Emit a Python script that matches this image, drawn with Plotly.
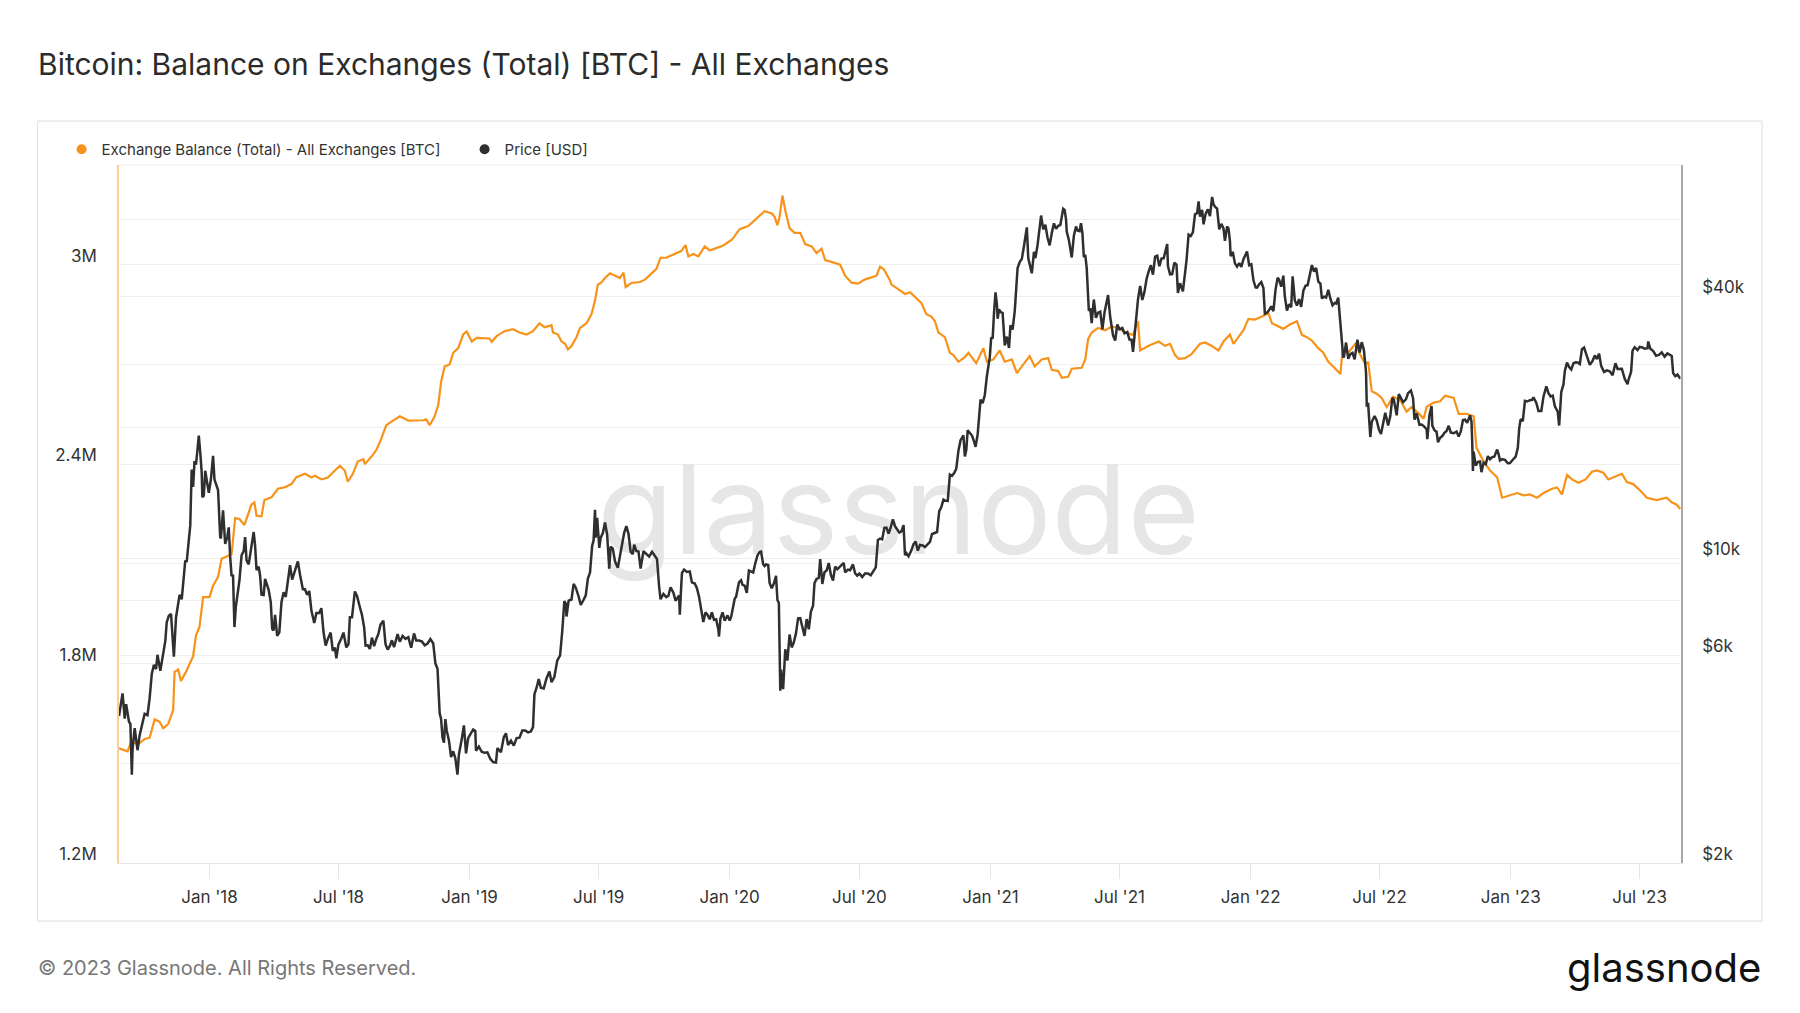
import plotly.graph_objects as go

# ---------------- data ----------------
PRICE_DATES = [
"2017-08-27","2017-08-29","2017-09-01","2017-09-04","2017-09-06","2017-09-10","2017-09-12","2017-09-14","2017-09-15","2017-09-18",
"2017-09-22","2017-09-25","2017-09-29","2017-10-02","2017-10-06","2017-10-09","2017-10-12","2017-10-15","2017-10-18","2017-10-20",
"2017-10-24","2017-10-27","2017-10-31","2017-11-02","2017-11-05","2017-11-08","2017-11-10","2017-11-12","2017-11-15","2017-11-17",
"2017-11-20","2017-11-23","2017-11-26","2017-11-28","2017-11-30","2017-12-03","2017-12-05","2017-12-07","2017-12-09","2017-12-11",
"2017-12-13","2017-12-15","2017-12-17","2017-12-19","2017-12-21","2017-12-22","2017-12-24","2017-12-26","2017-12-29","2017-12-31",
"2018-01-03","2018-01-06","2018-01-08","2018-01-10","2018-01-13","2018-01-16","2018-01-17","2018-01-20","2018-01-23","2018-01-26",
"2018-01-28","2018-01-30","2018-02-01","2018-02-03","2018-02-05","2018-02-07","2018-02-09","2018-02-12","2018-02-15","2018-02-18",
"2018-02-20","2018-02-22","2018-02-25","2018-02-28","2018-03-04","2018-03-06","2018-03-08","2018-03-11","2018-03-13","2018-03-15",
"2018-03-18","2018-03-20","2018-03-22","2018-03-25","2018-03-28","2018-03-30","2018-04-01","2018-04-03","2018-04-06","2018-04-09",
"2018-04-12","2018-04-15","2018-04-18","2018-04-21","2018-04-24","2018-04-27","2018-04-30","2018-05-05","2018-05-08","2018-05-12",
"2018-05-15","2018-05-18","2018-05-21","2018-05-24","2018-05-28","2018-05-31","2018-06-04","2018-06-07","2018-06-10","2018-06-13",
"2018-06-16","2018-06-20","2018-06-23","2018-06-26","2018-06-28","2018-07-01","2018-07-05","2018-07-08","2018-07-12","2018-07-15",
"2018-07-17","2018-07-20","2018-07-24","2018-07-27","2018-07-31","2018-08-03","2018-08-06","2018-08-08","2018-08-11","2018-08-14",
"2018-08-17","2018-08-20","2018-08-23","2018-08-26","2018-08-29","2018-09-02","2018-09-05","2018-09-08","2018-09-11","2018-09-14",
"2018-09-17","2018-09-20","2018-09-22","2018-09-25","2018-09-29","2018-10-03","2018-10-07","2018-10-11","2018-10-15","2018-10-18",
"2018-10-22","2018-10-26","2018-10-30","2018-11-03","2018-11-07","2018-11-11","2018-11-14","2018-11-17","2018-11-19","2018-11-20",
"2018-11-22","2018-11-24","2018-11-26","2018-11-28","2018-11-30","2018-12-03","2018-12-06","2018-12-09","2018-12-12","2018-12-15",
"2018-12-17","2018-12-19","2018-12-21","2018-12-24","2018-12-27","2018-12-30","2019-01-02","2019-01-06","2019-01-09","2019-01-10",
"2019-01-14","2019-01-18","2019-01-22","2019-01-26","2019-01-30","2019-02-03","2019-02-07","2019-02-09","2019-02-14","2019-02-18",
"2019-02-21","2019-02-24","2019-02-28","2019-03-04","2019-03-08","2019-03-12","2019-03-16","2019-03-20","2019-03-24","2019-03-28",
"2019-03-31","2019-04-02","2019-04-05","2019-04-08","2019-04-11","2019-04-15","2019-04-19","2019-04-23","2019-04-26","2019-04-30",
"2019-05-04","2019-05-08","2019-05-11","2019-05-14","2019-05-16","2019-05-17","2019-05-20","2019-05-24","2019-05-27","2019-05-30",
"2019-06-03","2019-06-06","2019-06-10","2019-06-13","2019-06-16","2019-06-19","2019-06-22","2019-06-24","2019-06-26","2019-06-27",
"2019-06-29","2019-07-02","2019-07-04","2019-07-07","2019-07-10","2019-07-13","2019-07-16","2019-07-18","2019-07-21","2019-07-24",
"2019-07-28","2019-07-31","2019-08-03","2019-08-06","2019-08-09","2019-08-12","2019-08-15","2019-08-18","2019-08-20","2019-08-23",
"2019-08-26","2019-08-29","2019-09-02","2019-09-06","2019-09-10","2019-09-14","2019-09-18","2019-09-21","2019-09-24","2019-09-26",
"2019-09-30","2019-10-04","2019-10-07","2019-10-10","2019-10-14","2019-10-17","2019-10-22","2019-10-23","2019-10-25","2019-10-26",
"2019-10-29","2019-11-02","2019-11-06","2019-11-09","2019-11-13","2019-11-16","2019-11-19","2019-11-22","2019-11-25","2019-11-28",
"2019-12-01","2019-12-04","2019-12-07","2019-12-10","2019-12-13","2019-12-16","2019-12-17","2019-12-19","2019-12-22","2019-12-25",
"2019-12-29","2020-01-01","2020-01-03","2020-01-06","2020-01-08","2020-01-10","2020-01-14","2020-01-17","2020-01-19","2020-01-22",
"2020-01-25","2020-01-28","2020-01-31","2020-02-03","2020-02-06","2020-02-09","2020-02-12","2020-02-14","2020-02-17","2020-02-19",
"2020-02-21","2020-02-24","2020-02-26","2020-02-29","2020-03-03","2020-03-06","2020-03-08","2020-03-10","2020-03-12","2020-03-13",
"2020-03-16","2020-03-19","2020-03-22","2020-03-25","2020-03-28","2020-03-31","2020-04-03","2020-04-06","2020-04-09","2020-04-12",
"2020-04-15","2020-04-18","2020-04-21","2020-04-24","2020-04-27","2020-04-29","2020-05-02","2020-05-05","2020-05-07","2020-05-10",
"2020-05-13","2020-05-16","2020-05-19","2020-05-22","2020-05-25","2020-05-28","2020-05-31","2020-06-02","2020-06-05","2020-06-09",
"2020-06-11","2020-06-15","2020-06-18","2020-06-22","2020-06-25","2020-06-28","2020-07-01","2020-07-05","2020-07-09","2020-07-13",
"2020-07-17","2020-07-21","2020-07-24","2020-07-27","2020-07-30","2020-08-02","2020-08-05","2020-08-08","2020-08-11","2020-08-14",
"2020-08-17","2020-08-20","2020-08-23","2020-08-26","2020-08-29","2020-09-01","2020-09-03","2020-09-05","2020-09-08","2020-09-12",
"2020-09-15","2020-09-18","2020-09-21","2020-09-24","2020-09-28","2020-10-01","2020-10-05","2020-10-08","2020-10-11","2020-10-14",
"2020-10-18","2020-10-21","2020-10-24","2020-10-27","2020-10-30","2020-11-02","2020-11-05","2020-11-08","2020-11-11","2020-11-14",
"2020-11-17","2020-11-20","2020-11-24","2020-11-26","2020-11-28","2020-11-30","2020-12-03","2020-12-06","2020-12-09","2020-12-11",
"2020-12-14","2020-12-16","2020-12-18","2020-12-21","2020-12-24","2020-12-27","2020-12-29","2020-12-31","2021-01-02","2021-01-04",
"2021-01-06","2021-01-08","2021-01-10","2021-01-11","2021-01-13","2021-01-15","2021-01-18","2021-01-21","2021-01-24","2021-01-27",
"2021-01-29","2021-02-01","2021-02-04","2021-02-08","2021-02-11","2021-02-14","2021-02-17","2021-02-20","2021-02-21","2021-02-23",
"2021-02-26","2021-02-28","2021-03-03","2021-03-05","2021-03-08","2021-03-10","2021-03-13","2021-03-16","2021-03-19","2021-03-22",
"2021-03-25","2021-03-28","2021-03-31","2021-04-03","2021-04-06","2021-04-09","2021-04-13","2021-04-15","2021-04-17","2021-04-18",
"2021-04-21","2021-04-25","2021-04-28","2021-05-01","2021-05-03","2021-05-06","2021-05-08","2021-05-10","2021-05-12","2021-05-14",
"2021-05-16","2021-05-19","2021-05-21","2021-05-23","2021-05-26","2021-05-29","2021-06-01","2021-06-04","2021-06-07","2021-06-10",
"2021-06-13","2021-06-15","2021-06-18","2021-06-22","2021-06-25","2021-06-28","2021-07-01","2021-07-05","2021-07-08","2021-07-12",
"2021-07-15","2021-07-18","2021-07-20","2021-07-22","2021-07-25","2021-07-27","2021-07-30","2021-08-02","2021-08-05","2021-08-08",
"2021-08-11","2021-08-14","2021-08-17","2021-08-20","2021-08-23","2021-08-26","2021-08-29","2021-09-01","2021-09-06","2021-09-07",
"2021-09-10","2021-09-13","2021-09-16","2021-09-19","2021-09-21","2021-09-24","2021-09-28","2021-09-30","2021-10-03","2021-10-06",
"2021-10-09","2021-10-12","2021-10-15","2021-10-18","2021-10-20","2021-10-22","2021-10-25","2021-10-27","2021-10-30","2021-11-02",
"2021-11-05","2021-11-08","2021-11-10","2021-11-12","2021-11-15","2021-11-18","2021-11-21","2021-11-24","2021-11-26","2021-11-29",
"2021-12-01","2021-12-03","2021-12-04","2021-12-07","2021-12-10","2021-12-13","2021-12-16","2021-12-19","2021-12-22","2021-12-27",
"2021-12-30","2022-01-02","2022-01-05","2022-01-08","2022-01-10","2022-01-13","2022-01-16","2022-01-19","2022-01-21","2022-01-24",
"2022-01-27","2022-01-30","2022-02-02","2022-02-05","2022-02-08","2022-02-10","2022-02-13","2022-02-16","2022-02-18","2022-02-21",
"2022-02-24","2022-02-27","2022-03-01","2022-03-04","2022-03-07","2022-03-10","2022-03-13","2022-03-16","2022-03-19","2022-03-22",
"2022-03-25","2022-03-28","2022-03-31","2022-04-03","2022-04-06","2022-04-09","2022-04-11","2022-04-14","2022-04-17","2022-04-20",
"2022-04-23","2022-04-26","2022-04-29","2022-05-01","2022-05-04","2022-05-06","2022-05-09","2022-05-11","2022-05-12","2022-05-15",
"2022-05-18","2022-05-21","2022-05-24","2022-05-27","2022-05-31","2022-06-03","2022-06-06","2022-06-09","2022-06-12","2022-06-13",
"2022-06-15","2022-06-18","2022-06-20","2022-06-24","2022-06-27","2022-06-30","2022-07-03","2022-07-06","2022-07-09","2022-07-13",
"2022-07-16","2022-07-19","2022-07-21","2022-07-25","2022-07-28","2022-07-31","2022-08-03","2022-08-07","2022-08-10","2022-08-14",
"2022-08-17","2022-08-19","2022-08-22","2022-08-26","2022-08-29","2022-09-01","2022-09-05","2022-09-06","2022-09-09","2022-09-12",
"2022-09-13","2022-09-16","2022-09-19","2022-09-21","2022-09-24","2022-09-27","2022-09-30","2022-10-03","2022-10-06","2022-10-09",
"2022-10-13","2022-10-17","2022-10-20","2022-10-23","2022-10-26","2022-10-29","2022-11-01","2022-11-05","2022-11-07","2022-11-08",
"2022-11-09","2022-11-10","2022-11-13","2022-11-16","2022-11-19","2022-11-21","2022-11-24","2022-11-27","2022-11-30","2022-12-03",
"2022-12-06","2022-12-09","2022-12-13","2022-12-15","2022-12-17","2022-12-20","2022-12-24","2022-12-28","2022-12-31","2023-01-04",
"2023-01-08","2023-01-11","2023-01-13","2023-01-15","2023-01-18","2023-01-21","2023-01-24","2023-01-28","2023-01-31","2023-02-02",
"2023-02-06","2023-02-09","2023-02-13","2023-02-16","2023-02-20","2023-02-23","2023-02-26","2023-03-01","2023-03-04","2023-03-08",
"2023-03-10","2023-03-13","2023-03-16","2023-03-18","2023-03-21","2023-03-24","2023-03-27","2023-03-30","2023-04-02","2023-04-05",
"2023-04-08","2023-04-11","2023-04-14","2023-04-17","2023-04-20","2023-04-22","2023-04-26","2023-04-29","2023-05-02","2023-05-05",
"2023-05-08","2023-05-11","2023-05-12","2023-05-16","2023-05-20","2023-05-24","2023-05-28","2023-05-31","2023-06-03","2023-06-06",
"2023-06-10","2023-06-14","2023-06-15","2023-06-19","2023-06-21","2023-06-24","2023-06-28","2023-07-01","2023-07-05","2023-07-08",
"2023-07-12","2023-07-13","2023-07-16","2023-07-20","2023-07-24","2023-07-28","2023-08-01","2023-08-05","2023-08-09","2023-08-12",
"2023-08-15","2023-08-17","2023-08-20","2023-08-23","2023-08-26","2023-08-27",
]
PRICE_USD = [
4350,4580,4900,4290,4630,4220,4170,3190,3640,4080,
3630,3930,4190,4400,4370,4780,5430,5700,5570,6010,
5520,5900,6470,7140,7390,7460,6620,5950,7320,7710,
8250,8060,9310,9890,9820,11320,11910,16000,14600,16730,
16410,17700,19140,17530,15800,13830,13930,15900,14600,14150,
15200,17200,15170,14900,14360,11200,11120,12900,10800,11200,
11790,10100,9110,9170,6960,7750,8270,8900,10170,10400,
11200,9900,9690,10400,11500,10700,9400,9580,9140,8260,
8240,8980,8720,8470,7930,6890,6840,7420,6640,6770,
7930,8360,8160,8860,9650,8940,9240,9850,9190,8500,
8500,8250,8420,7590,7110,7500,7500,7690,6780,6310,
6530,6760,6140,6240,5900,6350,6550,6760,6250,6350,
7330,7330,8400,8200,7730,7420,6950,6310,6320,6200,
6580,6290,6530,6710,7050,7200,6360,6180,6290,6490,
6260,6490,6710,6440,6640,6540,6600,6240,6730,6480,
6480,6450,6320,6380,6530,6380,5740,5580,4760,4410,
4280,3880,3780,4280,4020,3820,3500,3610,3480,3190,
3550,3750,3850,4140,3570,3870,3950,4050,4020,3620,
3700,3600,3580,3590,3470,3410,3400,3670,3590,3890,
3970,3730,3820,3720,3870,3880,4030,4030,3990,4010,
4100,4880,5050,5290,5050,5030,5310,5500,5200,5350,
5830,5990,6800,7980,7880,7360,8000,8050,8740,8570,
8180,7820,8040,8230,8990,9280,10700,11000,12930,11160,
12400,10580,11160,11440,12100,11350,9480,10650,10540,9850,
9520,10080,10820,11470,11860,11390,10360,10230,10760,10400,
10370,9480,10390,10260,10100,10360,10160,9970,8600,8060,
8290,8150,8210,8590,8350,8000,8220,7430,8660,9250,
9430,9310,9340,8810,8760,8550,8170,7630,7150,7520,
7420,7250,7520,7230,7250,6880,6620,7280,7520,7200,
7400,7200,7340,7770,8080,8170,8810,8910,8700,8660,
8340,9380,9350,9290,9760,10160,10350,10370,9700,9610,
9690,9660,8790,8540,8760,9120,8030,7900,4970,5560,
5010,6190,5830,6690,6250,6420,6730,7290,7300,6910,
6640,7260,6880,7550,7790,8780,8980,9020,9970,8740,
9300,9380,9760,9170,8900,9580,9450,9520,9640,9770,
9290,9430,9400,9690,9250,9130,9230,9070,9240,9240,
9150,9390,9540,11030,11110,11060,11750,11770,11410,11780,
12300,11860,11650,11470,11540,11930,10170,10280,10120,10440,
10790,10930,10420,10740,10710,10620,10790,10920,11380,11430,
11500,12820,13120,13650,13560,13550,15580,15480,15700,16070,
17680,18680,19160,17140,17730,19700,19450,19150,18550,18040,
19270,21310,23150,22720,23730,26270,27360,28990,32180,31970,
36770,40800,38350,35500,37320,36800,36600,30830,32290,30430,
34270,33530,36930,46400,47910,48720,52150,56100,57540,48830,
46340,45140,50540,48910,52360,55960,61240,56920,58350,54530,
52320,55860,58770,57080,58030,58250,63500,63110,60050,56230,
53830,49080,55040,57810,56620,56390,58800,55840,49150,49720,
46430,37000,37530,34700,39300,35680,36680,36880,33560,36680,
39100,40220,35820,32510,31640,34440,33570,33800,32870,33090,
31800,31780,29800,32290,35350,39360,42240,39200,40870,43800,
45590,47110,44800,49320,49540,46850,48810,48850,52690,46880,
44900,44960,47760,47260,40700,42830,41030,43790,48200,55360,
54970,56040,61670,62030,65990,60890,63080,58480,61890,63300,
61100,67570,64950,64160,63560,56940,58620,57160,53560,57810,
57230,53600,49390,50580,47570,46740,47640,46680,48630,50640,
47120,47340,43500,41870,41820,42590,43080,41740,36460,36650,
37150,37920,36950,41410,44120,43600,42060,44580,40020,37070,
38330,37710,44420,39150,38060,39390,37780,41140,42240,42360,
44350,47130,45540,46450,43210,42750,39520,39900,39720,41370,
39470,38120,38600,38470,39700,36040,30300,28940,29050,31300,
28720,29430,29640,28630,31790,29700,31370,30090,26760,22490,
22580,19000,20570,21230,20740,19780,19300,20550,21590,20200,
21190,23400,23150,21310,23850,23340,22850,23180,23960,24300,
23340,20830,21530,20260,20300,20130,19800,18790,21360,22370,
20180,19700,19540,18480,18930,19090,19430,19620,20160,19450,
19380,19550,19040,19570,20770,20820,20480,21300,20600,18540,
15880,17590,16330,16670,16700,15780,16600,16460,17170,16890,
17090,17130,17780,17360,16780,16900,16840,16540,16550,16850,
17130,17940,19930,20880,20670,23000,22920,23080,23130,23430,
22760,21800,21800,23520,24840,23950,23550,23650,22360,21720,
20190,24120,25050,26950,28170,27490,27140,28030,28200,28170,
27950,30220,30480,29430,28250,27820,28420,29240,28680,29530,
27670,26990,26800,27030,26880,26350,28070,27220,27250,27240,
25850,25120,25580,26840,30000,30550,30080,30590,30510,30290,
30390,31480,30290,29910,29190,29320,29710,29060,29560,29410,
29170,26630,26190,26430,26010,26090,
]

BAL_DATES = [
"2017-08-27","2017-09-08","2017-09-13","2017-09-23","2017-10-02","2017-10-09","2017-10-16","2017-10-23","2017-10-28","2017-11-04",
"2017-11-11","2017-11-13","2017-11-18","2017-11-22","2017-11-29","2017-12-09","2017-12-13","2017-12-18","2017-12-23","2018-01-01",
"2018-01-06","2018-01-13","2018-01-18","2018-02-01","2018-02-06","2018-02-12","2018-02-19","2018-03-01","2018-03-05","2018-03-08",
"2018-03-15","2018-03-19","2018-03-29","2018-04-07","2018-04-16","2018-04-26","2018-05-03","2018-05-15","2018-05-24","2018-05-29",
"2018-06-07","2018-06-16","2018-06-26","2018-07-03","2018-07-10","2018-07-14","2018-07-21","2018-07-28","2018-08-05","2018-08-07",
"2018-08-16","2018-08-23","2018-08-30","2018-09-06","2018-09-13","2018-09-25","2018-10-07","2018-10-28","2018-11-01","2018-11-06",
"2018-11-13","2018-11-18","2018-11-22","2018-11-27","2018-12-04","2018-12-09","2018-12-16","2018-12-23","2018-12-28","2019-01-04",
"2019-01-11","2019-01-18","2019-01-29","2019-02-01","2019-02-08","2019-02-19","2019-03-03","2019-03-12","2019-03-22","2019-03-31",
"2019-04-09","2019-04-16","2019-04-26","2019-04-28","2019-05-05","2019-05-10","2019-05-15","2019-05-19","2019-05-24","2019-05-31",
"2019-06-05","2019-06-14","2019-06-21","2019-06-26","2019-06-30","2019-07-05","2019-07-10","2019-07-17","2019-07-24","2019-07-31",
"2019-08-05","2019-08-08","2019-08-16","2019-08-28","2019-09-04","2019-09-11","2019-09-20","2019-09-26","2019-10-04","2019-10-14",
"2019-10-25","2019-10-31","2019-11-04","2019-11-11","2019-11-18","2019-11-27","2019-12-04","2019-12-13","2019-12-23","2020-01-04",
"2020-01-15","2020-01-27","2020-02-03","2020-02-10","2020-02-19","2020-02-29","2020-03-04","2020-03-08","2020-03-11","2020-03-15",
"2020-03-19","2020-03-25","2020-04-01","2020-04-09","2020-04-16","2020-04-25","2020-05-02","2020-05-09","2020-05-14","2020-05-25",
"2020-06-04","2020-06-11","2020-06-20","2020-06-29","2020-07-09","2020-07-18","2020-07-25","2020-07-30","2020-08-04","2020-08-13",
"2020-08-15","2020-08-25","2020-09-03","2020-09-10","2020-09-19","2020-09-26","2020-10-03","2020-10-10","2020-10-15","2020-10-20",
"2020-10-29","2020-11-05","2020-11-10","2020-11-17","2020-11-26","2020-12-01","2020-12-12","2020-12-22","2020-12-27","2021-01-05",
"2021-01-14","2021-01-21","2021-01-31","2021-02-07","2021-02-14","2021-02-25","2021-03-04","2021-03-14","2021-03-23","2021-03-28",
"2021-04-06","2021-04-11","2021-04-20","2021-04-25","2021-05-09","2021-05-14","2021-05-18","2021-05-23","2021-06-01","2021-06-11",
"2021-06-20","2021-06-29","2021-07-09","2021-07-20","2021-07-27","2021-07-30","2021-08-11","2021-08-25","2021-09-03","2021-09-10",
"2021-09-17","2021-09-22","2021-10-01","2021-10-10","2021-10-22","2021-10-29","2021-11-07","2021-11-17","2021-11-24","2021-12-03",
"2021-12-08","2021-12-15","2021-12-22","2021-12-29","2022-01-07","2022-01-17","2022-01-26","2022-01-31","2022-02-07","2022-02-16",
"2022-02-25","2022-03-07","2022-03-14","2022-03-21","2022-03-28","2022-04-06","2022-04-13","2022-04-20","2022-04-27","2022-05-07",
"2022-05-10","2022-05-18","2022-05-28","2022-06-04","2022-06-11","2022-06-15","2022-06-20","2022-06-27","2022-07-04","2022-07-11",
"2022-07-20","2022-07-30","2022-08-08","2022-08-15","2022-08-22","2022-09-01","2022-09-05","2022-09-15","2022-09-24","2022-10-01",
"2022-10-13","2022-10-20","2022-10-31","2022-11-10","2022-11-14","2022-11-24","2022-12-03","2022-12-13","2022-12-20","2022-12-31",
"2023-01-10","2023-01-19","2023-01-28","2023-02-07","2023-02-16","2023-02-28","2023-03-07","2023-03-14","2023-03-21","2023-03-28",
"2023-04-06","2023-04-16","2023-04-25","2023-05-02","2023-05-11","2023-05-18","2023-05-28","2023-06-06","2023-06-13","2023-06-22",
"2023-07-02","2023-07-11","2023-07-25","2023-08-08","2023-08-15","2023-08-22","2023-08-27",
]
BAL_BTC = [
1545000,1536000,1564000,1558000,1573000,1577000,1632000,1625000,1605000,1618000,
1660000,1775000,1782000,1748000,1775000,1822000,1884000,1911000,2000000,2000000,
2034000,2061000,2115000,2129000,2238000,2235000,2217000,2279000,2285000,2245000,
2243000,2292000,2300000,2326000,2330000,2340000,2361000,2371000,2360000,2365000,
2354000,2360000,2381000,2395000,2380000,2347000,2370000,2408000,2415000,2400000,
2422000,2442000,2476000,2517000,2527000,2544000,2531000,2532000,2535000,2517000,
2544000,2578000,2647000,2694000,2700000,2735000,2749000,2790000,2799000,2769000,
2780000,2780000,2778000,2768000,2785000,2800000,2806000,2796000,2790000,2800000,
2824000,2812000,2818000,2796000,2790000,2769000,2762000,2745000,2755000,2782000,
2810000,2824000,2851000,2892000,2940000,2947000,2960000,2974000,2967000,2960000,
2976000,2933000,2945000,2948000,2955000,2969000,2987000,3021000,3021000,3031000,
3041000,3059000,3025000,3032000,3025000,3055000,3043000,3050000,3058000,3075000,
3107000,3116000,3130000,3144000,3161000,3154000,3144000,3119000,3144000,3208000,
3164000,3110000,3096000,3096000,3062000,3055000,3035000,3048000,3014000,3007000,
3000000,2967000,2946000,2943000,2956000,2962000,2967000,2994000,2987000,2953000,
2940000,2926000,2912000,2917000,2899000,2885000,2851000,2844000,2830000,2796000,
2782000,2735000,2728000,2708000,2722000,2735000,2704000,2749000,2708000,2715000,
2742000,2708000,2715000,2674000,2694000,2725000,2694000,2715000,2719000,2684000,
2680000,2660000,2663000,2687000,2690000,2715000,2776000,2796000,2810000,2803000,
2814000,2810000,2796000,2789000,2830000,2742000,2756000,2769000,2756000,2762000,
2728000,2717000,2719000,2731000,2762000,2766000,2756000,2742000,2769000,2790000,
2762000,2783000,2803000,2837000,2835000,2844000,2854000,2824000,2817000,2807000,
2820000,2830000,2789000,2782000,2772000,2749000,2735000,2708000,2694000,2671000,
2742000,2735000,2762000,2728000,2701000,2708000,2619000,2612000,2599000,2572000,
2603000,2592000,2558000,2572000,2558000,2537000,2572000,2585000,2589000,2606000,
2599000,2551000,2551000,2544000,2449000,2408000,2381000,2360000,2299000,2306000,
2313000,2306000,2309000,2299000,2313000,2326000,2330000,2309000,2367000,2354000,
2344000,2354000,2377000,2381000,2374000,2354000,2364000,2371000,2346000,2340000,
2320000,2299000,2292000,2299000,2285000,2278000,2265000,
]

X_RANGE = ["2017-08-27", "2023-08-28"]
X_TICKS = ["2018-01-01","2018-07-01","2019-01-01","2019-07-01","2020-01-01","2020-07-01",
           "2021-01-01","2021-07-01","2022-01-01","2022-07-01","2023-01-01","2023-07-01"]
X_TICK_TEXT = ["Jan '18","Jul '18","Jan '19","Jul '19","Jan '20","Jul '20",
               "Jan '21","Jul '21","Jan '22","Jul '22","Jan '23","Jul '23"]
BAL_TICKS = [1200000,1500000,1800000,2100000,2400000,2700000,3000000,3300000]
BAL_TICK_TEXT = ["1.2M","","1.8M","","2.4M","","3M",""]
PRICE_TICKS = [2000,4000,6000,8000,10000,20000,40000,60000,80000]
PRICE_TICK_TEXT = ["$2k","","$6k","","$10k","","$40k","",""]

ORANGE = "#f7931a"
DARK = "#2f2f2f"
FONT = "Inter"

# ---------------- figure geometry (pixels) ----------------
W, H = 1800, 1013
L, R, T, B = 119.4, 1681.0, 164.5, 862.9
pw, ph = R - L, B - T
def px(x):
    return (x - L) / pw
def py(y):
    return (B - y) / ph

fig = go.Figure()

# watermark (drawn first -> behind the lines)
fig.add_trace(go.Scatter(
    x=["2020-08-25"], y=[2222000], mode="text", text=["glassnode"],
    textfont=dict(family=FONT, size=124, color="#e6e6e6"),
    textposition="middle center", showlegend=False, hoverinfo="skip", yaxis="y",
))

fig.add_trace(go.Scatter(
    x=BAL_DATES, y=BAL_BTC, mode="lines", name="Exchange Balance (Total) - All Exchanges [BTC]",
    line=dict(color=ORANGE, width=2.2), yaxis="y", showlegend=False,
))
fig.add_trace(go.Scatter(
    x=PRICE_DATES, y=PRICE_USD, mode="lines", name="Price [USD]",
    line=dict(color=DARK, width=2.5), yaxis="y2", showlegend=False,
))
# legend entries (round dots)
fig.add_trace(go.Scatter(
    x=[None], y=[None], mode="markers", name="Exchange Balance (Total) - All Exchanges [BTC]",
    marker=dict(color=ORANGE, size=10, symbol="circle"), yaxis="y",
))
fig.add_trace(go.Scatter(
    x=[None], y=[None], mode="markers", name="Price [USD]",
    marker=dict(color=DARK, size=10, symbol="circle"), yaxis="y2",
))

fig.update_layout(
    width=W, height=H,
    margin=dict(l=L, r=W - R, t=T, b=H - B, pad=0),
    paper_bgcolor="white", plot_bgcolor="white",
    font=dict(family=FONT, color="#333333", size=17),
    title=dict(
        text="Bitcoin: Balance on Exchanges (Total) [BTC] - All Exchanges",
        font=dict(family=FONT, size=30, color="#2b2b2b"),
        x=38 / W, xref="container", xanchor="left",
        y=1 - 64 / H, yref="container", yanchor="middle",
    ),
    legend=dict(
        orientation="h", x=px(62), y=py(149), xanchor="left", yanchor="middle",
        font=dict(family=FONT, size=15, color="#333333"), bgcolor="rgba(0,0,0,0)",
        itemwidth=30, traceorder="normal", entrywidth=358, entrywidthmode="pixels",
    ),
    xaxis=dict(
        type="date", range=X_RANGE, tickvals=X_TICKS, ticktext=X_TICK_TEXT,
        showgrid=False, ticks="outside", ticklen=15, tickcolor="#e6e6e6", tickwidth=1,
        showline=True, linecolor="#e6e6e6", linewidth=1,
        tickfont=dict(family=FONT, size=17, color="#333333"), ticklabelstandoff=4,
        zeroline=False,
    ),
    yaxis=dict(
        range=[1200000, 3300000], tickvals=BAL_TICKS, ticktext=BAL_TICK_TEXT,
        showgrid=True, gridcolor="#efefef", gridwidth=1,
        showline=True, linecolor="rgba(247,147,26,0.45)", linewidth=1.5,
        ticks="", tickfont=dict(family=FONT, size=17, color="#333333"),
        ticklabelstandoff=17, ticklabelshift=-9, zeroline=False,
    ),
    yaxis2=dict(
        type="log", overlaying="y", side="right",
        range=[3.30103, 4.90309], tickvals=PRICE_TICKS, ticktext=PRICE_TICK_TEXT,
        showgrid=True, gridcolor="#efefef", gridwidth=1,
        showline=True, linecolor="#a8a8a8", linewidth=1.5,
        ticks="", tickfont=dict(family=FONT, size=17, color="#333333"),
        ticklabelstandoff=16, ticklabelshift=-9, zeroline=False,
    ),
    showlegend=True,
    hovermode=False,
)

# outer card border
fig.add_shape(type="rect", xref="paper", yref="paper",
              x0=px(38), x1=px(1762), y0=py(921), y1=py(120.5),
              line=dict(color="#e4e4e4", width=1.2), fillcolor="rgba(0,0,0,0)", layer="below")
# top border of plot area
fig.add_shape(type="line", xref="paper", yref="paper", x0=0, x1=1, y0=1, y1=1,
              line=dict(color="#efefef", width=1), layer="below")

# footer
fig.add_annotation(text="© 2023 Glassnode. All Rights Reserved.", xref="paper", yref="paper",
                   x=px(36), y=py(968), xanchor="left", yanchor="middle", showarrow=False,
                   font=dict(family=FONT, size=20, color="#777777"))
fig.add_annotation(text="glassnode", xref="paper", yref="paper",
                   x=px(1763), y=py(967), xanchor="right", yanchor="middle", showarrow=False,
                   font=dict(family=FONT, size=40, color="#111111"))

fig.write_html("out.html", config={"displayModeBar": False},
               post_script="document.body.style.margin='0';document.body.style.overflow='hidden';")
